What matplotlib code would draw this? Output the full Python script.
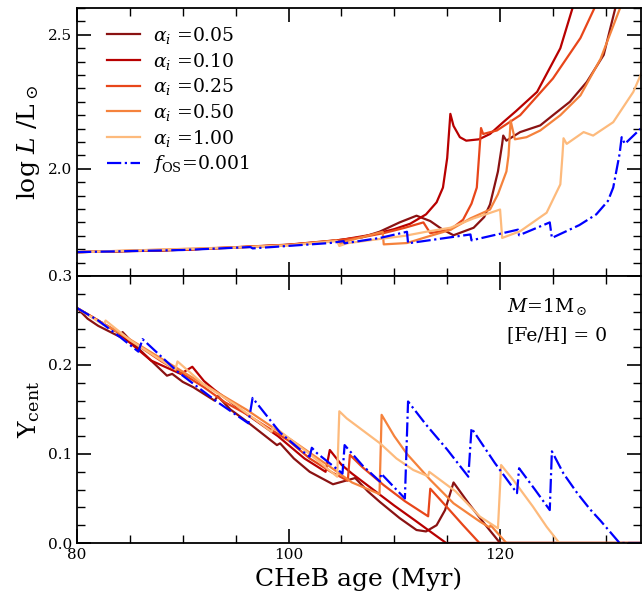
import matplotlib
matplotlib.use("Agg")
import matplotlib.pyplot as plt
from matplotlib.ticker import MultipleLocator

plt.rcParams['font.family'] = ['DejaVu Serif']
plt.rcParams['mathtext.fontset'] = 'dejavuserif'

labels = [r'$\alpha_i$ =0.05', r'$\alpha_i$ =0.10', r'$\alpha_i$ =0.25',
          r'$\alpha_i$ =0.50', r'$\alpha_i$ =1.00']
colors = ['#8a1212', '#b80000', '#e8461a', '#f5823c', '#fdba7c']
os_label = r'$f_{\rm OS}$=0.001'
os_color = '#0000ff'

# ---- top panel: log L ----
L_t_005 = [80, 88, 95, 100, 103, 105, 107, 108.6, 110.5, 112.1, 113.4, 114.5, 115.6, 117.5, 118.5, 119.05, 119.8, 120.2, 120.3, 120.6, 121.9, 123.8, 125.0, 126.6, 128.2, 129.8, 130.9]
L_v_005 = [1.689, 1.695, 1.706, 1.716, 1.726, 1.735, 1.745, 1.765, 1.80, 1.825, 1.805, 1.775, 1.752, 1.78, 1.82, 1.867, 1.99, 2.093, 2.124, 2.105, 2.137, 2.162, 2.20, 2.25, 2.324, 2.425, 2.60]
L_t_010 = [80, 90, 100, 105, 108, 110, 111.5, 113, 114, 114.6, 115.0, 115.3, 115.6, 116.2, 116.8, 118, 119.05, 120.3, 121.5, 123.5, 125.7, 126.9]
L_v_010 = [1.689, 1.698, 1.717, 1.735, 1.755, 1.775, 1.795, 1.83, 1.875, 1.93, 2.04, 2.205, 2.16, 2.118, 2.105, 2.11, 2.13, 2.174, 2.215, 2.287, 2.45, 2.606]
L_t_025 = [80, 90, 100, 104, 107, 109, 111, 112.75, 113.4, 115.3, 116.5, 117.3, 117.8, 118.0, 118.2, 118.4, 119.7, 121.9, 125.0, 127.6, 129.0]
L_v_025 = [1.689, 1.698, 1.716, 1.73, 1.745, 1.76, 1.78, 1.80, 1.76, 1.773, 1.81, 1.87, 1.93, 2.04, 2.152, 2.13, 2.143, 2.20, 2.337, 2.488, 2.606]
L_t_050 = [80, 95, 100, 104.5, 104.9, 105.5, 108.9, 109.0, 111.2, 113, 115.3, 117.2, 119.05, 119.8, 120.6, 120.8, 121.0, 121.4, 122.5, 123.8, 125.7, 127.6, 129.5, 131.35]
L_v_050 = [1.689, 1.707, 1.716, 1.733, 1.72, 1.73, 1.765, 1.718, 1.723, 1.745, 1.772, 1.815, 1.848, 1.905, 1.99, 2.05, 2.18, 2.11, 2.118, 2.143, 2.20, 2.274, 2.41, 2.60]
L_t_100 = [80, 95, 100, 104.6, 104.8, 105.5, 108, 111, 113, 115.3, 117.5, 120.0, 120.2, 121.9, 124.4, 125.7, 125.9, 126.0, 126.3, 127.9, 128.8, 130.7, 132.6, 133.4]
L_v_100 = [1.689, 1.706, 1.714, 1.73, 1.712, 1.722, 1.735, 1.75, 1.765, 1.78, 1.815, 1.848, 1.742, 1.767, 1.836, 1.942, 2.05, 2.114, 2.093, 2.137, 2.124, 2.174, 2.287, 2.36]
L_t_os = [80, 90, 96.4, 96.6, 103.9, 105.2, 105.3, 108.65, 111.2, 111.3, 117.2, 117.3, 121.7, 121.8, 124.7, 124.9, 127.5, 129.1, 130.2, 130.7, 131.3, 131.5, 131.8, 133.3]
L_v_os = [1.689, 1.697, 1.708, 1.703, 1.723, 1.73, 1.722, 1.742, 1.765, 1.722, 1.755, 1.733, 1.773, 1.752, 1.80, 1.742, 1.79, 1.83, 1.88, 1.93, 2.055, 2.118, 2.093, 2.15]

# ---- bottom panel: central helium ----
Y_t_005 = [80, 81, 82, 84, 84.3, 85.5, 87, 88.5, 89, 90, 91, 93, 93.3, 94.5, 96, 98.9, 99.2, 100.5, 102, 104.2, 106.3, 107.5, 108.65, 110.5, 112.1, 113, 114.0, 114.8, 115.6, 117, 118.5, 120.0, 133.3]
Y_v_005 = [0.264, 0.252, 0.244, 0.232, 0.237, 0.222, 0.205, 0.188, 0.19, 0.181, 0.175, 0.16, 0.165, 0.15, 0.137, 0.11, 0.112, 0.095, 0.08, 0.066, 0.073, 0.058, 0.046, 0.028, 0.0146, 0.013, 0.02, 0.037, 0.068, 0.045, 0.022, 0.0, 0.0]
Y_t_010 = [80, 82, 83.8, 85, 87, 89.8, 90.9, 92, 93, 96, 99, 101.5, 103.5, 103.9, 105, 106, 108, 110, 112, 113.5, 114.9, 133.3]
Y_v_010 = [0.264, 0.25, 0.237, 0.225, 0.205, 0.19, 0.198, 0.182, 0.172, 0.145, 0.12, 0.095, 0.08, 0.1045, 0.088, 0.078, 0.06, 0.042, 0.025, 0.012, 0.0, 0.0]
Y_t_025 = [80, 82, 84, 86, 88, 90, 92, 94, 96, 98, 100, 102, 104, 105.6, 105.8, 107, 109, 111, 113.2, 113.4, 115, 116.5, 118.05, 133.3]
Y_v_025 = [0.264, 0.25, 0.236, 0.22, 0.204, 0.19, 0.175, 0.158, 0.145, 0.13, 0.115, 0.095, 0.08, 0.07, 0.099, 0.085, 0.065, 0.047, 0.03, 0.061, 0.04, 0.02, 0.0, 0.0]
Y_t_050 = [80, 84, 88, 92, 96, 100, 104, 106, 108.6, 108.8, 110, 111.2, 113.4, 115.6, 118.1, 119.0, 119.1, 120.6, 133.3]
Y_v_050 = [0.264, 0.236, 0.207, 0.178, 0.15, 0.118, 0.085, 0.068, 0.055, 0.144, 0.12, 0.10, 0.071, 0.0446, 0.024, 0.0176, 0.02, 0.0, 0.0]
Y_t_100 = [80, 82.5, 82.7, 85, 89.3, 89.5, 92, 95, 98.4, 98.6, 100, 102, 104.6, 104.8, 105.5, 108.65, 110.2, 111.8, 113.2, 113.3, 115.8, 118.1, 119.8, 120.1, 121.3, 123.1, 124.4, 125.6, 133.3]
Y_v_100 = [0.264, 0.245, 0.25, 0.228, 0.195, 0.204, 0.178, 0.155, 0.125, 0.131, 0.118, 0.1, 0.0745, 0.148, 0.14, 0.112, 0.095, 0.082, 0.075, 0.08, 0.058, 0.0296, 0.0165, 0.0876, 0.07, 0.041, 0.0183, 0.0, 0.0]
Y_t_os = [80, 82, 84, 85.8, 86.2, 89.5, 93.2, 96.2, 96.6, 99.2, 101.1, 102.0, 102.2, 102.7, 104.9, 105.1, 105.3, 107, 108.65, 108.75, 111.0, 111.3, 113, 115, 117.0, 117.3, 119.5, 121.6, 121.8, 123.3, 124.7, 124.9, 126, 127.3, 128.5, 129.5, 131.3, 133.3]
Y_v_os = [0.264, 0.25, 0.232, 0.215, 0.229, 0.1925, 0.159, 0.1345, 0.163, 0.124, 0.105, 0.097, 0.107, 0.1008, 0.080, 0.078, 0.110, 0.087, 0.069, 0.078, 0.050, 0.159, 0.133, 0.105, 0.0745, 0.129, 0.09, 0.056, 0.084, 0.06, 0.037, 0.103, 0.078, 0.056, 0.038, 0.025, 0.0, 0.0]

L_t = [L_t_005, L_t_010, L_t_025, L_t_050, L_t_100]
L_v = [L_v_005, L_v_010, L_v_025, L_v_050, L_v_100]
Y_t = [Y_t_005, Y_t_010, Y_t_025, Y_t_050, Y_t_100]
Y_v = [Y_v_005, Y_v_010, Y_v_025, Y_v_050, Y_v_100]

fig = plt.figure(figsize=(6.42, 6.03), dpi=100)
ax1 = fig.add_axes([0.12, 0.5423, 0.878, 0.4444])
ax2 = fig.add_axes([0.12, 0.0995, 0.878, 0.4428], sharex=ax1)

lw = 1.6
for t, v, c, lab in zip(L_t, L_v, colors, labels):
    ax1.plot(t, v, color=c, lw=lw, label=lab)
ax1.plot(L_t_os, L_v_os, color=os_color, lw=lw, ls='-.', label=os_label)
for t, v, c in zip(Y_t, Y_v, colors):
    ax2.plot(t, v, color=c, lw=lw)
ax2.plot(Y_t_os, Y_v_os, color=os_color, lw=lw, ls='-.')

ax1.set_xlim(80, 133.3)
ax1.set_ylim(1.6, 2.6)
ax2.set_ylim(0.0, 0.3)

ax1.yaxis.set_major_locator(MultipleLocator(0.5))
ax1.yaxis.set_minor_locator(MultipleLocator(0.05))
ax2.yaxis.set_major_locator(MultipleLocator(0.1))
ax2.yaxis.set_minor_locator(MultipleLocator(0.02))
ax2.xaxis.set_major_locator(MultipleLocator(20))
ax2.xaxis.set_minor_locator(MultipleLocator(5))

for ax in (ax1, ax2):
    ax.tick_params(which='both', direction='in', top=True, right=True, labelsize=11)
    ax.tick_params(which='major', length=10, width=1.2)
    ax.tick_params(which='minor', length=6, width=1.0)
    for s in ax.spines.values():
        s.set_linewidth(1.3)
plt.setp(ax1.get_xticklabels(), visible=False)

ax1.set_ylabel(r'log $L$ /L$_\odot$', fontsize=18)
ax2.set_ylabel(r'Y$_{\rm cent}$', fontsize=18)
ax2.set_xlabel('CHeB age (Myr)', fontsize=18)

ax1.legend(loc='upper left', bbox_to_anchor=(0.023, 1.0), frameon=False,
           fontsize=13.5, handlelength=1.75, handletextpad=0.7,
           labelspacing=0.25, borderaxespad=0.5)
ax2.text(0.763, 0.885, r'$M$=1M$_\odot$', transform=ax2.transAxes, fontsize=13.5, va='center')
ax2.text(0.763, 0.78, '[Fe/H] = 0', transform=ax2.transAxes, fontsize=13.5, va='center')

fig.savefig('out.png', dpi=100)
